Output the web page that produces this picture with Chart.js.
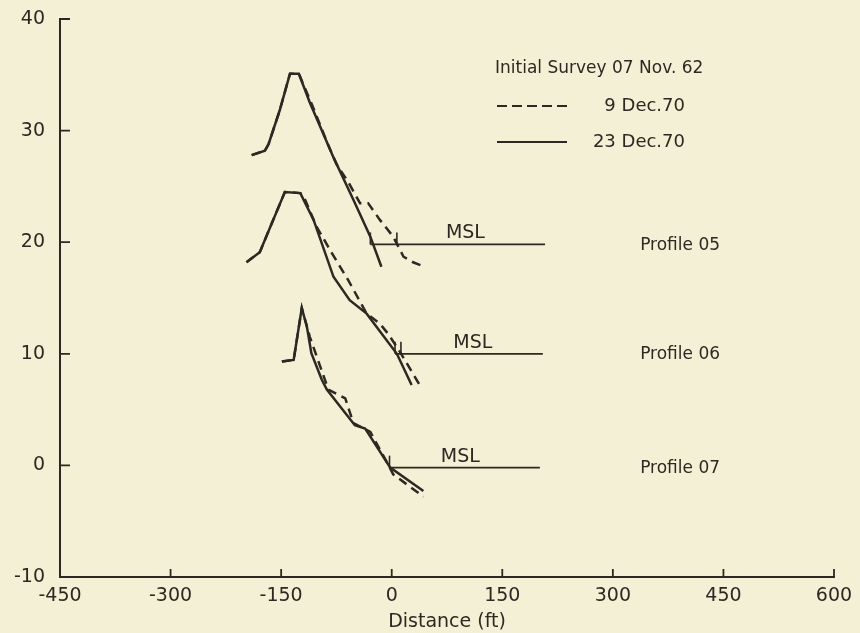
<!DOCTYPE html>
<html>
<head>
<meta charset="utf-8">
<script src="https://cdn.jsdelivr.net/npm/chart.js@4.4.1/dist/chart.umd.min.js"></script>
<style>
  html, body { margin: 0; padding: 0; background: #f4f0d6; }
  #wrap { width: 860px; height: 633px; }
</style>
</head>
<body>
<div id="wrap"><canvas id="c" width="860" height="633"></canvas></div>
<script>
// Beach profiles: elevation (ft) against distance (ft); each profile sits 10 ft above the next.
const xTicks = [-450, -300, -150, 0, 150, 300, 450, 600];
const yTicks = [-10, 0, 10, 20, 30, 40];

// Profile 05 (MSL plotted at +20)
const p05Dist9Dec  = [-190, -172, -167, -152, -138, -126, -108, -88, -75, -59, -43, -32, -16, 2, 9, 16, 29, 45];
const p05Elev9Dec  = [27.8, 28.2, 28.8, 31.8, 35.1, 35.1, 32.3, 29.0, 27.0, 25.4, 23.5, 23.5, 22.0, 20.5, 19.6, 18.7, 18.2, 17.8];
const p05Dist23Dec = [-190, -172, -167, -152, -138, -126, -111, -79, -52, -29, -14];
const p05Elev23Dec = [27.8, 28.2, 28.8, 31.8, 35.1, 35.1, 32.5, 27.6, 23.8, 20.5, 17.8];

// Profile 06 (MSL plotted at +10)
const p06Dist9Dec  = [-197, -179, -145, -124, -120, -102, -81, -59, -34, -16, -5, 11, 38];
const p06Elev9Dec  = [18.2, 19.1, 24.5, 24.4, 24.2, 21.4, 19.0, 16.6, 13.6, 12.7, 11.8, 10.2, 7.2];
const p06Dist23Dec = [-197, -179, -145, -124, -106, -79, -57, -34, 7, 27];
const p06Elev23Dec = [18.2, 19.1, 24.5, 24.4, 22.0, 16.9, 14.8, 13.6, 10.0, 7.2];

// Profile 07 (MSL plotted at 0)
const p07Dist9Dec  = [-149, -133, -122, -111, -86, -63, -52, -29, -25, -5, 2, 43];
const p07Elev9Dec  = [9.3, 9.45, 14.1, 11.5, 6.8, 6.0, 3.8, 3.0, 2.5, 0.1, -0.8, -2.8];
const p07Dist23Dec = [-149, -133, -122, -115, -109, -95, -88, -50, -36, -2, 43];
const p07Elev23Dec = [9.3, 9.45, 14.1, 12.4, 10.05, 7.7, 6.8, 3.6, 3.3, -0.2, -2.3];

// Mean sea level reference lines: level, start and end distance
const mslLevels = [19.8, 10.0, -0.2];
const mslStart  = [-29, 4.5, -2];
const mslEnd    = [208, 205, 201];
// Distances where each survey crosses MSL (short upright marks)
const mslCrossings = [[-29, 7], [4.5, 12.5], [-3]];

const profileNames = ['Profile 05', 'Profile 06', 'Profile 07'];
const surveyNames  = ['9 Dec.70', '23 Dec.70'];
const headerText   = 'Initial Survey 07 Nov. 62';

const INK = '#2b2922';
const FONT = "'DejaVu Sans', sans-serif";

const pts = (xs, ys) => xs.map((x, i) => ({ x, y: ys[i] }));

function profileSet(xs, ys, dashed) {
  return {
    data: pts(xs, ys),
    showLine: true,
    borderColor: INK,
    borderWidth: 2.5,
    borderDash: dashed ? [9, 6] : [],
    pointRadius: 0,
    tension: 0,
    fill: false
  };
}

const datasets = [
  profileSet(p05Dist9Dec, p05Elev9Dec, true),
  profileSet(p05Dist23Dec, p05Elev23Dec, false),
  profileSet(p06Dist9Dec, p06Elev9Dec, true),
  profileSet(p06Dist23Dec, p06Elev23Dec, false),
  profileSet(p07Dist9Dec, p07Elev9Dec, true),
  profileSet(p07Dist23Dec, p07Elev23Dec, false)
];
mslLevels.forEach((lvl, i) => {
  datasets.push({
    data: [{ x: mslStart[i], y: lvl }, { x: mslEnd[i], y: lvl }],
    showLine: true,
    borderColor: INK,
    borderWidth: 1.8,
    pointRadius: 0,
    fill: false
  });
});

// Page background
const paper = {
  id: 'paper',
  beforeDraw(chart) {
    const { ctx, width, height } = chart;
    ctx.save();
    ctx.fillStyle = '#f4f0d6';
    ctx.fillRect(0, 0, width, height);
    ctx.restore();
  }
};

// Tick marks pointing into the plot
const inwardTicks = {
  id: 'inwardTicks',
  afterDraw(chart) {
    const { ctx, scales: { x, y } } = chart;
    ctx.save();
    ctx.strokeStyle = INK;
    ctx.lineWidth = 1.8;
    ctx.beginPath();
    xTicks.forEach(v => {
      if (v === x.min) return;
      const px = x.getPixelForValue(v);
      ctx.moveTo(px, y.bottom);
      ctx.lineTo(px, y.bottom - 8);
    });
    yTicks.forEach(v => {
      if (v === y.min) return;
      const py = y.getPixelForValue(v);
      ctx.moveTo(x.left, py);
      ctx.lineTo(x.left + 10, py);
    });
    ctx.stroke();
    ctx.restore();
  }
};

// MSL marks, labels and the survey key
const annotations = {
  id: 'annotations',
  afterDraw(chart) {
    const { ctx, scales: { x, y } } = chart;
    ctx.save();
    ctx.strokeStyle = INK;
    ctx.fillStyle = INK;
    ctx.lineWidth = 1.6;

    // upright marks where the surveys cross MSL
    mslCrossings.forEach((list, i) => {
      const py = y.getPixelForValue(mslLevels[i]);
      list.forEach(d => {
        const px = x.getPixelForValue(d);
        ctx.beginPath();
        ctx.moveTo(px, py);
        ctx.lineTo(px, py - 12);
        ctx.stroke();
      });
    });

    // MSL labels
    const mslLabelX = [100, 110, 93];
    ctx.font = '19px ' + FONT;
    ctx.textAlign = 'center';
    ctx.textBaseline = 'middle';
    mslLevels.forEach((lvl, i) => {
      ctx.fillText('MSL', x.getPixelForValue(mslLabelX[i]), y.getPixelForValue(lvl) - 11);
    });

    // profile names
    ctx.font = '17px ' + FONT;
    ctx.textAlign = 'left';
    profileNames.forEach((name, i) => {
      ctx.fillText(name, x.getPixelForValue(337), y.getPixelForValue(mslLevels[i]) + 1);
    });

    // survey key
    ctx.font = '17px ' + FONT;
    ctx.textAlign = 'left';
    ctx.fillText(headerText, 495, 69);
    ctx.lineWidth = 2.2;
    ctx.beginPath();
    ctx.setLineDash([10, 5]);
    ctx.moveTo(497, 106);
    ctx.lineTo(567, 106);
    ctx.stroke();
    ctx.beginPath();
    ctx.setLineDash([]);
    ctx.moveTo(497, 142);
    ctx.lineTo(567, 142);
    ctx.stroke();
    ctx.font = '18px ' + FONT;
    ctx.textAlign = 'right';
    ctx.fillText(surveyNames[0], 685, 106);
    ctx.fillText(surveyNames[1], 685, 142);
    ctx.restore();
  }
};

new Chart(document.getElementById('c'), {
  type: 'scatter',
  data: { datasets },
  options: {
    responsive: false,
    devicePixelRatio: 1,
    animation: false,
    layout: { padding: { top: 19, right: 26, left: 0, bottom: 0 } },
    plugins: { legend: { display: false }, tooltip: { enabled: false } },
    scales: {
      x: {
        type: 'linear',
        min: -450,
        max: 600,
        afterBuildTicks: s => { s.ticks = xTicks.map(v => ({ value: v })); },
        afterFit: s => { s.height = 56; s.paddingLeft = 0; s.paddingRight = 0; },
        grid: { display: false, drawTicks: false },
        border: { display: true, color: INK, width: 2 },
        ticks: {
          color: INK,
          font: { family: FONT, size: 19 },
          padding: 8,
          maxRotation: 0,
          callback: v => String(v)
        },
        title: {
          display: true,
          text: 'Distance (ft)',
          color: INK,
          font: { family: FONT, size: 19, lineHeight: 1.2 },
          padding: 0
        }
      },
      y: {
        type: 'linear',
        min: -10,
        max: 40,
        afterBuildTicks: s => { s.ticks = yTicks.map(v => ({ value: v })); },
        afterFit: s => { s.width = 60; s.paddingTop = 0; s.paddingBottom = 0; },
        grid: { display: false, drawTicks: false },
        border: { display: true, color: INK, width: 2 },
        ticks: {
          color: INK,
          font: { family: FONT, size: 19 },
          padding: 15,
          callback: v => String(v)
        }
      }
    }
  },
  plugins: [paper, inwardTicks, annotations]
});
</script>
</body>
</html>
